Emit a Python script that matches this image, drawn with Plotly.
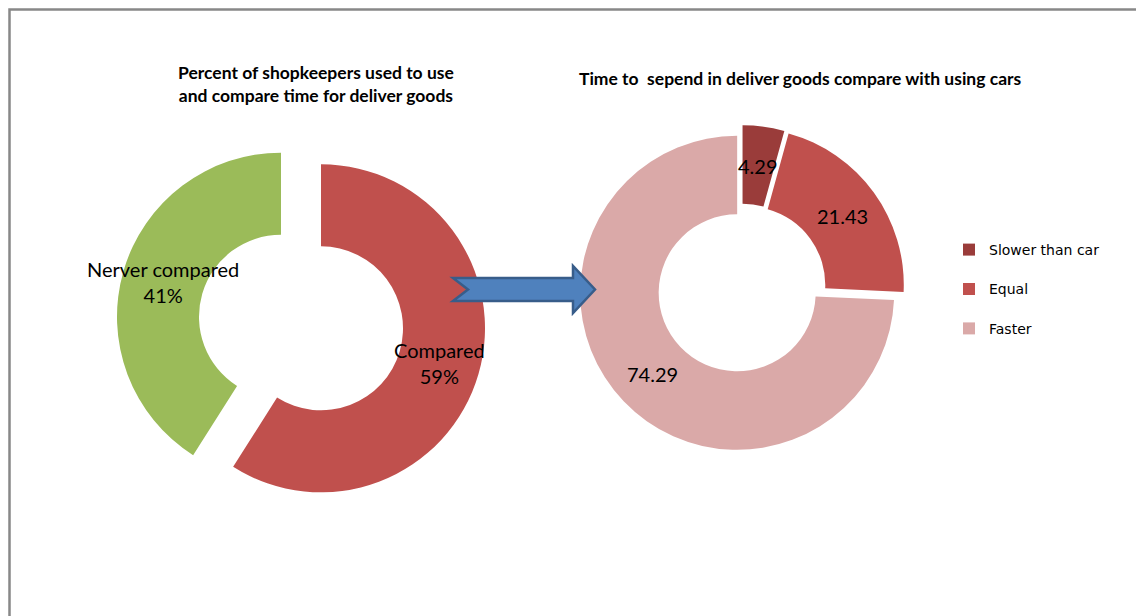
import math
import plotly.graph_objects as go

W, H = 1136, 616

# Left doughnut: shopkeepers who compared delivery time
use_labels = ["Compared", "Nerver compared"]
use_values = [59, 41]
use_colors = ["#C0504D", "#9BBB59"]

# Right doughnut: delivery time compared with using cars
time_labels = ["Slower than car", "Equal", "Faster"]
time_values = [4.29, 21.43, 74.29]
time_colors = ["#9A3C3A", "#C0504D", "#DAA9A8"]

left_title = "Percent of shopkeepers used to use<br>and compare time for deliver goods"
right_title = "Time to\u00a0 sepend in deliver goods compare with using cars"

HOLE = 0.5
LEFT = dict(cx=301.0, cy=322.5, r=164.0, pull=0.127)
RIGHT = dict(cx=741.7, cy=288.5, r=157.0, pull=0.04)
LABEL_FONT = dict(family="Lato", size=20, color="#000000")
TITLE_FONT = dict(family="Lato", size=17.5, color="#000000")


def px_x(x):
    return x / W


def px_y(y):
    return 1 - y / H


def domain(g):
    half = g["r"] * (1 + g["pull"])
    return dict(x=[px_x(g["cx"] - half), px_x(g["cx"] + half)],
                y=[px_y(g["cy"] + half), px_y(g["cy"] - half)])


def label_points(values, g):
    """Mid-ring point of each (pulled) slice, clockwise from 12 o'clock."""
    total = sum(values)
    acc = 0.0
    pts = []
    for v in values:
        ang = (acc + v / 2) / total * 2 * math.pi
        acc += v
        dx, dy = math.sin(ang), -math.cos(ang)
        rr = g["r"] * g["pull"] + g["r"] * (1 + HOLE) / 2
        pts.append((px_x(g["cx"] + dx * rr), px_y(g["cy"] + dy * rr)))
    return pts


fig = go.Figure()

fig.add_trace(go.Pie(
    labels=use_labels, values=use_values, hole=HOLE, sort=False,
    direction="clockwise", rotation=0, pull=LEFT["pull"],
    marker=dict(colors=use_colors, line=dict(width=0)),
    textinfo="none", showlegend=False, domain=domain(LEFT),
))

fig.add_trace(go.Pie(
    labels=[lab + "<br> " for lab in time_labels], values=time_values,
    hole=HOLE, sort=False, direction="clockwise", rotation=0,
    pull=RIGHT["pull"], marker=dict(colors=time_colors, line=dict(width=0)),
    textinfo="none", showlegend=True, domain=domain(RIGHT),
))

annotations = []
total_use = sum(use_values)
for lab, v, (x, y) in zip(use_labels, use_values, label_points(use_values, LEFT)):
    annotations.append(dict(
        x=x, y=y, xref="paper", yref="paper", showarrow=False,
        xanchor="center", yanchor="middle",
        text=f"{lab}<br>{v / total_use * 100:.0f}%", font=LABEL_FONT,
    ))
for v, (x, y) in zip(time_values, label_points(time_values, RIGHT)):
    annotations.append(dict(
        x=x, y=y, xref="paper", yref="paper", showarrow=False,
        xanchor="center", yanchor="middle",
        text=f"{v:.2f}", font=LABEL_FONT,
    ))

annotations.append(dict(
    x=px_x(315.5), y=px_y(84), xref="paper", yref="paper", showarrow=False,
    xanchor="center", yanchor="middle", text=f"<b>{left_title}</b>",
    font=TITLE_FONT,
))
annotations.append(dict(
    x=px_x(800), y=px_y(78), xref="paper", yref="paper", showarrow=False,
    xanchor="center", yanchor="middle", text=f"<b>{right_title}</b>",
    font=TITLE_FONT,
))

# Block arrow linking the two doughnuts
arrow_pts = [(453, 278), (573, 278), (573, 266), (595, 289.5), (573, 313),
             (573, 301), (453, 301), (468, 289.5)]
arrow_path = "M" + " L".join(f"{px_x(x):.5f},{px_y(y):.5f}" for x, y in arrow_pts) + " Z"

shapes = [
    dict(type="rect", xref="paper", yref="paper",
         x0=px_x(9.5), y0=-0.05, x1=1.05, y1=px_y(9.5),
         line=dict(color="#888888", width=2.5), fillcolor="rgba(0,0,0,0)"),
    dict(type="path", xref="paper", yref="paper", path=arrow_path,
         fillcolor="#4F81BD", line=dict(color="#385D8A", width=2.5)),
]

fig.update_layout(
    width=W, height=H, autosize=False,
    margin=dict(l=0, r=0, t=0, b=0),
    paper_bgcolor="#FFFFFF", plot_bgcolor="#FFFFFF",
    annotations=annotations, shapes=shapes,
    legend=dict(x=px_x(949), y=px_y(234), xanchor="left", yanchor="top",
                valign="top",
                font=dict(family="DejaVu Sans", size=14, color="#000000"),
                bgcolor="rgba(0,0,0,0)", borderwidth=0),
)

fig.write_html("out.html")
